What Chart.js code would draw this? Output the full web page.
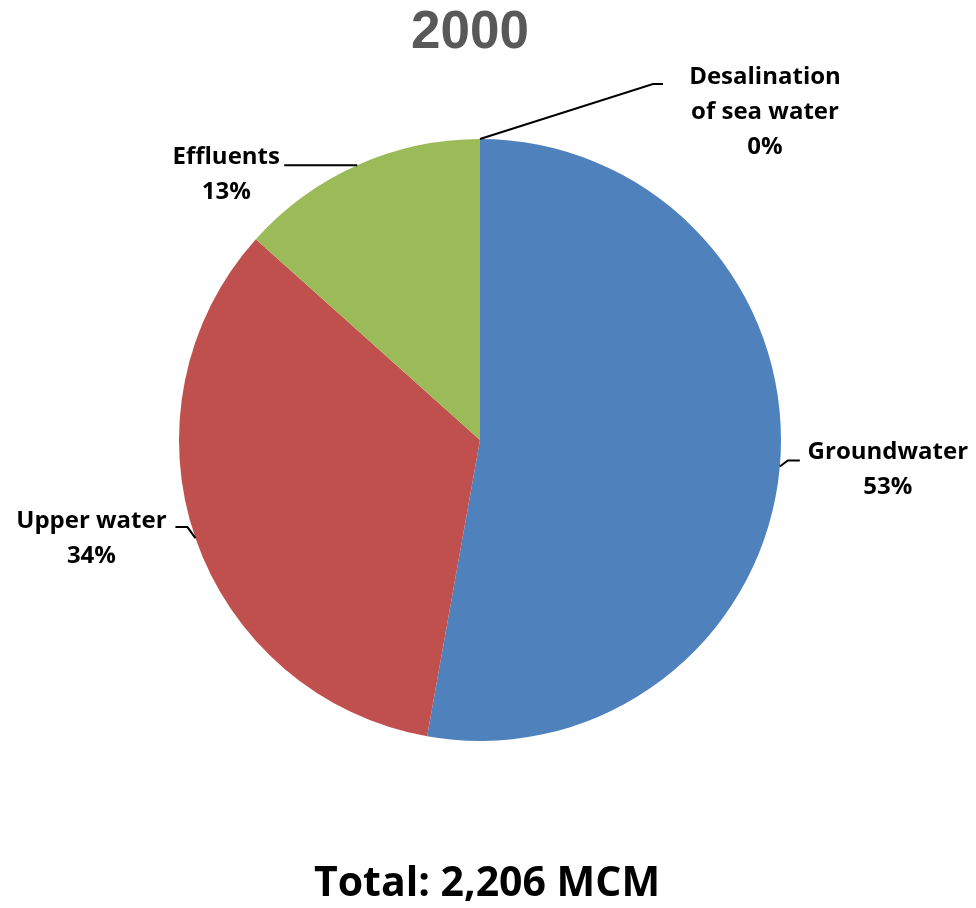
<!DOCTYPE html>
<html>
<head>
<meta charset="utf-8">
<script src="https://cdn.jsdelivr.net/npm/chart.js@4.4.0/dist/chart.umd.min.js"></script>
<style>
  html, body { margin: 0; padding: 0; background: #fff; }
  canvas { display: block; }
</style>
</head>
<body>
<canvas id="pieChart" width="976" height="908"></canvas>
<script>
// Data 2000 (MCM)
const yearLabel = '2000';
const categories = ['Groundwater', 'Upper water', 'Effluents', 'Desalination of sea water'];
const labelLines = [['Groundwater'], ['Upper water'], ['Effluents'], ['Desalination', 'of sea water']];
const volumes = [1165, 746, 295, 0];
const totalText = 'Total: 2,206 MCM';

const colors = ['#4F81BD', '#C0504D', '#9BBB59', '#8064A2'];
const labelFont = 'bold 24px "Open Sans", sans-serif';

// posisi label relatif ke titik tengah busur (elbow, ujung garis, teks)
const leaders = [
    { elbow: [8, -6], end: [20, -6], text: [108, -14] },
    { elbow: [-8, -11], end: [-20, -11], text: [-104, -17] },
    { elbow: [0, 0], end: [-73, 0], text: [-131, -8] },
    { elbow: [173, -55], end: [183, -55], text: [285, -62] }
];

const total = volumes.reduce((a, b) => a + b, 0);

const labelPlugin = {
    id: 'pieLabels',
    afterDraw(chart) {
        const c = chart.ctx;
        const meta = chart.getDatasetMeta(0);
        c.save();
        // judul
        c.fillStyle = '#595959';
        c.font = 'bold 53px "Liberation Sans", Arial, sans-serif';
        c.textAlign = 'center';
        c.textBaseline = 'middle';
        c.fillText(yearLabel, 470, 33);
        // total
        c.fillStyle = '#000';
        c.font = 'bold 41px "Open Sans", sans-serif';
        c.fillText(totalText, 487, 884);

        meta.data.forEach((arc, i) => {
            const mid = (arc.startAngle + arc.endAngle) / 2;
            const px = arc.x + Math.cos(mid) * arc.outerRadius;
            const py = arc.y + Math.sin(mid) * arc.outerRadius;
            const L = leaders[i];
            c.strokeStyle = '#000';
            c.lineWidth = 2;
            c.beginPath();
            c.moveTo(px, py);
            c.lineTo(px + L.elbow[0], py + L.elbow[1]);
            c.lineTo(px + L.end[0], py + L.end[1]);
            c.stroke();

            const pct = Math.round(volumes[i] / total * 100) + '%';
            const lines = labelLines[i].concat([pct]);
            c.font = labelFont;
            c.fillStyle = '#000';
            lines.forEach((t, k) => {
                c.fillText(t, px + L.text[0], py + L.text[1] + k * 35);
            });
        });
        c.restore();
    }
};

new Chart(document.getElementById('pieChart'), {
    type: 'pie',
    data: {
        labels: categories,
        datasets: [{
            data: volumes,
            backgroundColor: colors,
            borderWidth: 0
        }]
    },
    options: {
        responsive: false,
        animation: false,
        layout: { padding: { top: 139, bottom: 167, left: 179, right: 195 } },
        plugins: {
            legend: { display: false },
            tooltip: { enabled: false },
            title: { display: false }
        }
    },
    plugins: [labelPlugin]
});
</script>
</body>
</html>
